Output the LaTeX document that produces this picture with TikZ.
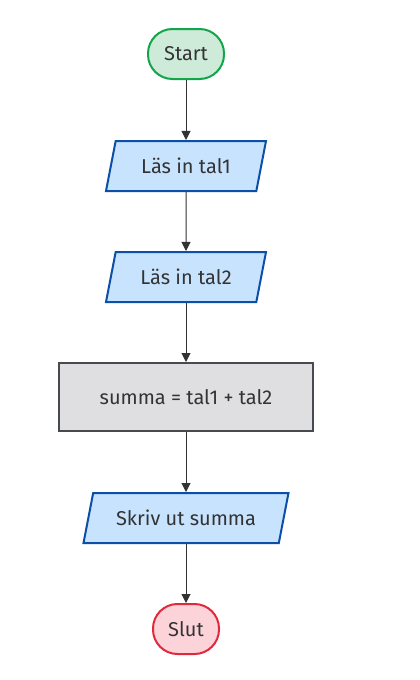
\documentclass[tikz,border=0pt]{standalone}
\usepackage{fontspec}
\setmainfont{Fira Sans}
\usetikzlibrary{arrows.meta,shapes.geometric}
\definecolor{txt}{HTML}{333333}
\definecolor{stfill}{HTML}{CDEBD8}
\definecolor{stline}{HTML}{13A54A}
\definecolor{iofill}{HTML}{C7E3FD}
\definecolor{ioline}{HTML}{0B4FA8}
\definecolor{prfill}{HTML}{DFDFE2}
\definecolor{prline}{HTML}{474A4E}
\definecolor{enfill}{HTML}{FDD3DA}
\definecolor{enline}{HTML}{E0293D}
\begin{document}
\begin{tikzpicture}[x=1pt,y=-1pt,
  base/.style={line width=2pt, text=txt, font=\fontsize{20}{24}\selectfont, inner sep=2pt},
  term/.style={base, rectangle, rounded corners=24.5pt, minimum height=50pt},
  io/.style={base, trapezium, trapezium left angle=64, trapezium right angle=116,
    trapezium stretches body, minimum height=50pt, fill=iofill, draw=ioline},
  proc/.style={base, rectangle, minimum width=254pt, minimum height=68pt, fill=prfill, draw=prline},
  arr/.style={draw=txt, line width=1pt, -{Triangle[length=9pt,width=9pt]}}
]
\useasboundingbox (0,0) rectangle (420,680);
\fill[white] (0,0) rectangle (420,680);
\node[term, minimum width=76pt, fill=stfill, draw=stline] (start) at (186,54) {Start};
\node[io, minimum width=160pt] (p1) at (186,166) {Läs in tal1};
\node[io, minimum width=160pt] (p2) at (186,277) {Läs in tal2};
\node[proc] (sum) at (186,397) {summa = tal1 + tal2};
\node[io, minimum width=205pt] (p3) at (186,518) {Skriv ut summa};
\node[term, minimum width=66pt, fill=enfill, draw=enline] (slut) at (186,629) {Slut};
\draw[arr] (start) -- (p1);
\draw[arr] (p1) -- (p2);
\draw[arr] (p2) -- (sum);
\draw[arr] (sum) -- (p3);
\draw[arr] (p3) -- (slut);
\end{tikzpicture}
\end{document}
